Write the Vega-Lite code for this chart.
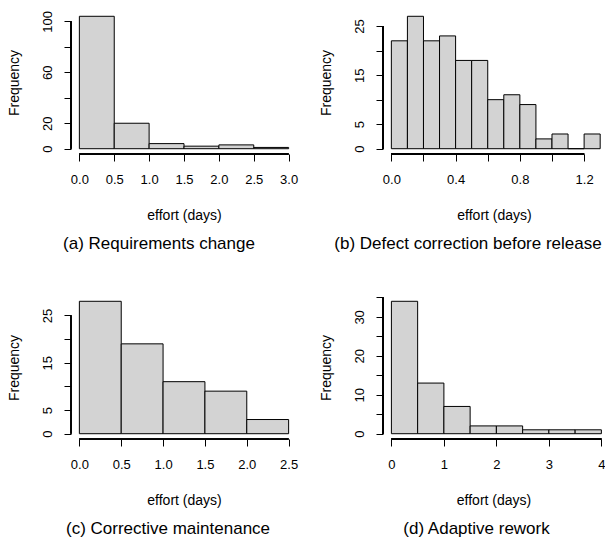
{
  "$schema": "https://vega.github.io/schema/vega-lite/v6.json",
  "background": "white",
  "padding": {"left": 7, "top": 10, "right": 0, "bottom": 0},
  "datasets": {
    "hist": [
      {"panel": "a", "bin_start": 0.0, "bin_end": 0.5, "count": 104},
      {"panel": "a", "bin_start": 0.5, "bin_end": 1.0, "count": 20},
      {"panel": "a", "bin_start": 1.0, "bin_end": 1.5, "count": 4},
      {"panel": "a", "bin_start": 1.5, "bin_end": 2.0, "count": 2},
      {"panel": "a", "bin_start": 2.0, "bin_end": 2.5, "count": 3},
      {"panel": "a", "bin_start": 2.5, "bin_end": 3.0, "count": 1},
      {"panel": "b", "bin_start": 0.0, "bin_end": 0.1, "count": 22},
      {"panel": "b", "bin_start": 0.1, "bin_end": 0.2, "count": 27},
      {"panel": "b", "bin_start": 0.2, "bin_end": 0.3, "count": 22},
      {"panel": "b", "bin_start": 0.3, "bin_end": 0.4, "count": 23},
      {"panel": "b", "bin_start": 0.4, "bin_end": 0.5, "count": 18},
      {"panel": "b", "bin_start": 0.5, "bin_end": 0.6, "count": 18},
      {"panel": "b", "bin_start": 0.6, "bin_end": 0.7, "count": 10},
      {"panel": "b", "bin_start": 0.7, "bin_end": 0.8, "count": 11},
      {"panel": "b", "bin_start": 0.8, "bin_end": 0.9, "count": 9},
      {"panel": "b", "bin_start": 0.9, "bin_end": 1.0, "count": 2},
      {"panel": "b", "bin_start": 1.0, "bin_end": 1.1, "count": 3},
      {"panel": "b", "bin_start": 1.1, "bin_end": 1.2, "count": 0},
      {"panel": "b", "bin_start": 1.2, "bin_end": 1.3, "count": 3},
      {"panel": "c", "bin_start": 0.0, "bin_end": 0.5, "count": 28},
      {"panel": "c", "bin_start": 0.5, "bin_end": 1.0, "count": 19},
      {"panel": "c", "bin_start": 1.0, "bin_end": 1.5, "count": 11},
      {"panel": "c", "bin_start": 1.5, "bin_end": 2.0, "count": 9},
      {"panel": "c", "bin_start": 2.0, "bin_end": 2.5, "count": 3},
      {"panel": "d", "bin_start": 0.0, "bin_end": 0.5, "count": 34},
      {"panel": "d", "bin_start": 0.5, "bin_end": 1.0, "count": 13},
      {"panel": "d", "bin_start": 1.0, "bin_end": 1.5, "count": 7},
      {"panel": "d", "bin_start": 1.5, "bin_end": 2.0, "count": 2},
      {"panel": "d", "bin_start": 2.0, "bin_end": 2.5, "count": 2},
      {"panel": "d", "bin_start": 2.5, "bin_end": 3.0, "count": 1},
      {"panel": "d", "bin_start": 3.0, "bin_end": 3.5, "count": 1},
      {"panel": "d", "bin_start": 3.5, "bin_end": 4.0, "count": 1}
    ]
  },
  "bounds": "flush",
  "columns": 2,
  "spacing": {"row": 142, "column": 86},
  "concat": [
    {
      "width": 226, "height": 143,
      "title": {"text": "(a) Requirements change", "dx": -25, "offset": 14},
      "data": {"name": "hist"},
      "transform": [{"filter": "datum.panel == 'a'"}],
      "resolve": {"axis": {"x": "independent", "y": "independent"}},
      "layer": [
        {
          "mark": {"type": "bar", "fill": "#d3d3d3", "stroke": "black", "strokeWidth": 1},
          "encoding": {
            "x": {"field": "bin_start", "type": "quantitative", "scale": {"domain": [-0.12, 3.12], "nice": false, "zero": false},
              "axis": {"title": "effort (days)", "values": [0, 0.5, 1, 1.5, 2, 2.5, 3], "format": ".1f"}},
            "x2": {"field": "bin_end"},
            "y": {"field": "count", "type": "quantitative", "scale": {"domain": [-4.16, 108.16], "nice": false, "zero": false},
              "axis": {"title": "Frequency", "values": [0, 20, 40, 60, 80, 100], "labelExpr": "datum.value == 40 || datum.value == 80 ? '' : datum.label"}},
            "y2": {"datum": 0}
          }
        },
        {
          "mark": {"type": "rule", "color": "black", "strokeWidth": 1},
          "encoding": {
            "x": {"datum": -0.12, "type": "quantitative", "axis": null},
            "y": {"datum": 0, "type": "quantitative", "axis": null},
            "y2": {"datum": 100}
          }
        },
        {
          "mark": {"type": "rule", "color": "black", "strokeWidth": 1},
          "encoding": {
            "y": {"datum": -4.16, "type": "quantitative", "axis": null},
            "x": {"datum": 0, "type": "quantitative", "axis": null},
            "x2": {"datum": 3}
          }
        }
      ]
    },
    {
      "width": 222, "height": 143,
      "title": {"text": "(b) Defect correction before release", "dx": -26, "offset": 14},
      "data": {"name": "hist"},
      "transform": [{"filter": "datum.panel == 'b'"}],
      "resolve": {"axis": {"x": "independent", "y": "independent"}},
      "layer": [
        {
          "mark": {"type": "bar", "fill": "#d3d3d3", "stroke": "black", "strokeWidth": 1},
          "encoding": {
            "x": {"field": "bin_start", "type": "quantitative", "scale": {"domain": [-0.052, 1.33], "nice": false, "zero": false},
              "axis": {"title": "effort (days)", "values": [0, 0.2, 0.4, 0.6, 0.8, 1.0, 1.2], "format": ".1f", "labelExpr": "datum.value == 0.2 || datum.value == 0.6 || datum.value == 1 ? '' : datum.label"}},
            "x2": {"field": "bin_end"},
            "y": {"field": "count", "type": "quantitative", "scale": {"domain": [-1.08, 28.08], "nice": false, "zero": false},
              "axis": {"title": "Frequency", "values": [0, 5, 10, 15, 20, 25], "labelExpr": "datum.value == 10 || datum.value == 20 ? '' : datum.label"}},
            "y2": {"datum": 0}
          }
        },
        {
          "mark": {"type": "rule", "color": "black", "strokeWidth": 1},
          "encoding": {
            "x": {"datum": -0.052, "type": "quantitative", "axis": null},
            "y": {"datum": 0, "type": "quantitative", "axis": null},
            "y2": {"datum": 25}
          }
        },
        {
          "mark": {"type": "rule", "color": "black", "strokeWidth": 1},
          "encoding": {
            "y": {"datum": -1.08, "type": "quantitative", "axis": null},
            "x": {"datum": 0, "type": "quantitative", "axis": null},
            "x2": {"datum": 1.2}
          }
        }
      ]
    },
    {
      "width": 226, "height": 143,
      "title": {"text": "(c) Corrective maintenance", "dx": -16, "offset": 14},
      "data": {"name": "hist"},
      "transform": [{"filter": "datum.panel == 'c'"}],
      "resolve": {"axis": {"x": "independent", "y": "independent"}},
      "layer": [
        {
          "mark": {"type": "bar", "fill": "#d3d3d3", "stroke": "black", "strokeWidth": 1},
          "encoding": {
            "x": {"field": "bin_start", "type": "quantitative", "scale": {"domain": [-0.1, 2.6], "nice": false, "zero": false},
              "axis": {"title": "effort (days)", "values": [0, 0.5, 1, 1.5, 2, 2.5], "format": ".1f"}},
            "x2": {"field": "bin_end"},
            "y": {"field": "count", "type": "quantitative", "scale": {"domain": [-1.12, 29.12], "nice": false, "zero": false},
              "axis": {"title": "Frequency", "values": [0, 5, 10, 15, 20, 25], "labelExpr": "datum.value == 10 || datum.value == 20 ? '' : datum.label"}},
            "y2": {"datum": 0}
          }
        },
        {
          "mark": {"type": "rule", "color": "black", "strokeWidth": 1},
          "encoding": {
            "x": {"datum": -0.1, "type": "quantitative", "axis": null},
            "y": {"datum": 0, "type": "quantitative", "axis": null},
            "y2": {"datum": 25}
          }
        },
        {
          "mark": {"type": "rule", "color": "black", "strokeWidth": 1},
          "encoding": {
            "y": {"datum": -1.12, "type": "quantitative", "axis": null},
            "x": {"datum": 0, "type": "quantitative", "axis": null},
            "x2": {"datum": 2.5}
          }
        }
      ]
    },
    {
      "width": 221, "height": 143,
      "title": {"text": "(d) Adaptive rework", "dx": -17, "offset": 14},
      "data": {"name": "hist"},
      "transform": [{"filter": "datum.panel == 'd'"}],
      "resolve": {"axis": {"x": "independent", "y": "independent"}},
      "layer": [
        {
          "mark": {"type": "bar", "fill": "#d3d3d3", "stroke": "black", "strokeWidth": 1},
          "encoding": {
            "x": {"field": "bin_start", "type": "quantitative", "scale": {"domain": [-0.16, 4.05], "nice": false, "zero": false},
              "axis": {"title": "effort (days)", "values": [0, 1, 2, 3, 4], "format": "d"}},
            "x2": {"field": "bin_end"},
            "y": {"field": "count", "type": "quantitative", "scale": {"domain": [-1.36, 35.36], "nice": false, "zero": false},
              "axis": {"title": "Frequency", "values": [0, 5, 10, 15, 20, 25, 30, 35], "labelExpr": "datum.value % 10 != 0 ? '' : datum.label"}},
            "y2": {"datum": 0}
          }
        },
        {
          "mark": {"type": "rule", "color": "black", "strokeWidth": 1},
          "encoding": {
            "x": {"datum": -0.16, "type": "quantitative", "axis": null},
            "y": {"datum": 0, "type": "quantitative", "axis": null},
            "y2": {"datum": 35}
          }
        },
        {
          "mark": {"type": "rule", "color": "black", "strokeWidth": 1},
          "encoding": {
            "y": {"datum": -1.36, "type": "quantitative", "axis": null},
            "x": {"datum": 0, "type": "quantitative", "axis": null},
            "x2": {"datum": 4}
          }
        }
      ]
    }
  ],
  "config": {
    "view": {"stroke": null},
    "font": "Liberation Sans",
    "title": {"orient": "bottom", "anchor": "middle", "font": "Liberation Sans", "fontSize": 17, "fontWeight": "normal", "color": "black"},
    "axis": {
      "domain": false,
      "grid": false,
      "ticks": true,
      "tickSize": 7,
      "tickColor": "black",
      "tickWidth": 1,
      "labelFont": "Liberation Sans",
      "labelFontSize": 13,
      "labelColor": "black",
      "labelOverlap": false,
      "labelFlush": false,
      "titleFont": "Liberation Sans",
      "titleFontSize": 14,
      "titleFontWeight": "normal",
      "titleColor": "black"
    },
    "axisX": {"labelPadding": 12, "titlePadding": 22, "titleFontSize": 14},
    "axisY": {"labelAngle": -90, "labelAlign": "center", "labelBaseline": "bottom", "labelPadding": 10, "titlePadding": 20, "titleFontSize": 14}
  }
}
